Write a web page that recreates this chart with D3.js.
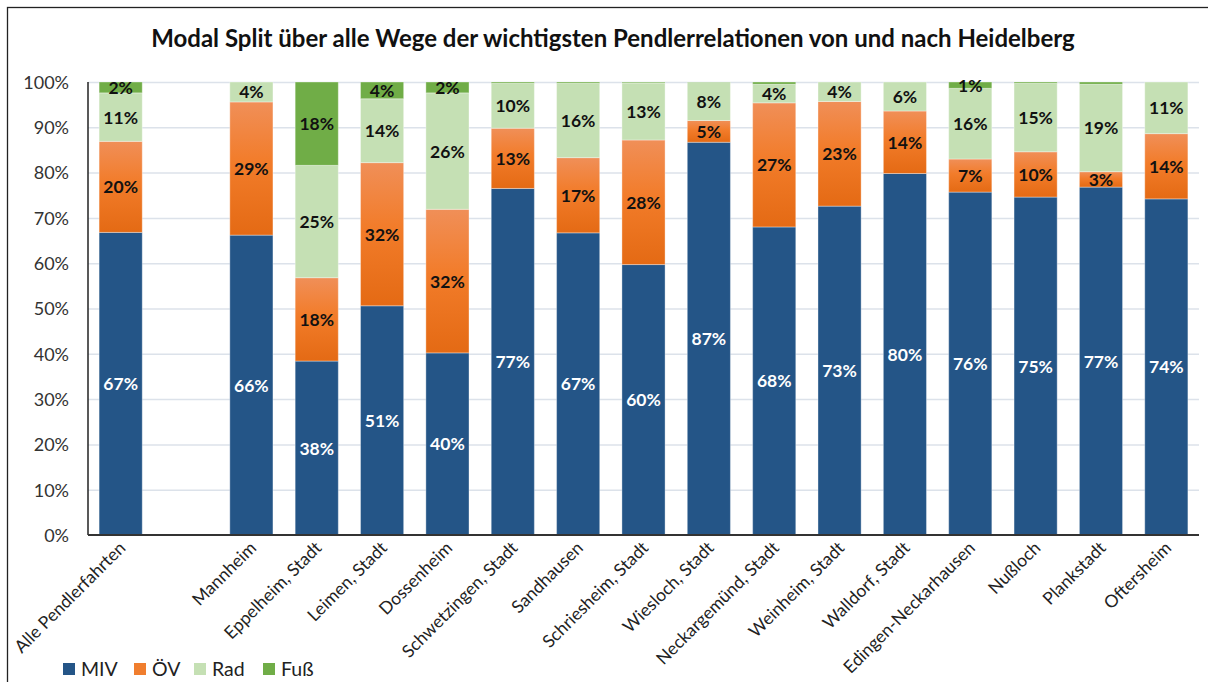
<!DOCTYPE html>
<html><head><meta charset="utf-8">
<script src="https://cdn.jsdelivr.net/npm/d3@7"></script>
<style>body{margin:0;background:#fff;} svg{display:block;font-family:Lato,"Open Sans",sans-serif;}</style>
</head><body><svg id="c" width="1208" height="682"></svg>
<script>
const categories = ["Alle Pendlerfahrten", "", "Mannheim", "Eppelheim, Stadt", "Leimen, Stadt", "Dossenheim",
  "Schwetzingen, Stadt", "Sandhausen", "Schriesheim, Stadt", "Wiesloch, Stadt", "Neckargemünd, Stadt",
  "Weinheim, Stadt", "Walldorf, Stadt", "Edingen-Neckarhausen", "Nußloch", "Plankstadt", "Oftersheim"];
const seriesNames = ["MIV", "ÖV", "Rad", "Fuß"];
const miv = [66.8, null, 66.2, 38.4, 50.6, 40.2, 76.5, 66.7, 59.7, 86.7, 68.0, 72.6, 79.8, 75.7, 74.6, 76.8, 74.2];
const oev = [20.1, null, 29.4, 18.4, 31.6, 31.7, 13.3, 16.6, 27.5, 4.8, 27.4, 23.1, 13.8, 7.3, 10.0, 3.4, 14.4];
const rad = [10.7, null, 4.4, 24.8, 14.1, 25.7, 9.9, 16.4, 12.6, 8.4, 4.1, 4.3, 6.4, 15.6, 15.1, 19.3, 11.4];
const fuss = [2.4, null, 0, 18.4, 3.7, 2.4, 0.3, 0.3, 0.2, 0.1, 0.5, 0, 0, 1.4, 0.3, 0.5, 0];
const yTicks = [0, 10, 20, 30, 40, 50, 60, 70, 80, 90, 100];
const titleText = "Modal Split über alle Wege der wichtigsten Pendlerrelationen von und nach Heidelberg";

const colors = ["#245587", "url(#oevGrad)", "#C5E0B4", "#70AD47"];
const legendColors = ["#245587", "#F07E2E", "#C5E0B4", "#70AD47"];
const labelColors = ["#fff", "#111", "#111", "#111"];

const svg = d3.select("#c");
const defs = svg.append("defs");
const g1 = defs.append("linearGradient").attr("id", "oevGrad")
  .attr("x1", 0).attr("y1", 0).attr("x2", 0).attr("y2", 1);
g1.append("stop").attr("offset", "0%").attr("stop-color", "#F08F58");
g1.append("stop").attr("offset", "45%").attr("stop-color", "#F27C2A");
g1.append("stop").attr("offset", "100%").attr("stop-color", "#E46A14");

// outer frame
svg.append("rect").attr("x", 7.5).attr("y", 7.5).attr("width", 1220).attr("height", 700)
  .attr("fill", "none").attr("stroke", "#222").attr("stroke-width", 1.3);

const L = 88, R = 1199, T = 82, B = 535;
const x = d3.scaleBand().domain(d3.range(categories.length)).range([L, R]).paddingInner(0.34).paddingOuter(0.17);
const y = d3.scaleLinear().domain([0, 100]).range([B, T]);

svg.append("text").attr("x", 613).attr("y", 47).attr("text-anchor", "middle")
  .attr("font-size", 24).attr("font-weight", "bold").attr("fill", "#111").text(titleText);

// gridlines
svg.append("g").selectAll("line").data(yTicks.filter(d => d > 0)).join("line")
  .attr("x1", L).attr("x2", R).attr("y1", d => y(d) + 0.5).attr("y2", d => y(d) + 0.5)
  .attr("stroke", "#DCE2EA").attr("stroke-width", 1.5);

// y axis labels
const yAxis = d3.axisLeft(y).tickValues(yTicks).tickFormat(d => d + "%").tickSize(0).tickPadding(19);
const ya = svg.append("g").attr("transform", `translate(${L},0)`).call(yAxis);
ya.select(".domain").remove();
ya.selectAll("text").attr("font-size", 18).attr("fill", "#333").attr("font-family", "Lato, sans-serif").attr("dy", "0.35em");

const rows = categories.map((c, i) => ({i, MIV: miv[i] || 0, "ÖV": oev[i] || 0, Rad: rad[i] || 0, "Fuß": fuss[i] || 0, empty: miv[i] == null}));
const stack = d3.stack().keys(seriesNames)(rows);

stack.forEach((layer, si) => {
  const gg = svg.append("g");
  gg.selectAll("rect").data(layer.filter(d => !d.data.empty && d[1] - d[0] > 0)).join("rect")
    .attr("x", d => x(d.data.i)).attr("width", x.bandwidth())
    .attr("y", d => y(d[1])).attr("height", d => y(d[0]) - y(d[1]))
    .attr("fill", colors[si]).attr("stroke", "rgba(255,255,255,0.35)").attr("stroke-width", 1);
});
stack.forEach((layer, si) => {
  svg.append("g").selectAll("text").data(layer.filter(d => !d.data.empty && d[1] - d[0] >= 1)).join("text")
    .attr("x", d => x(d.data.i) + x.bandwidth() / 2)
    .attr("y", d => (y(d[0]) + y(d[1])) / 2 + 6.5)
    .attr("text-anchor", "middle").attr("font-size", 17.5).attr("font-weight", "bold")
    .attr("fill", labelColors[si])
    .text(d => Math.round(d[1] - d[0]) + "%");
});

// axes lines
svg.append("line").attr("x1", L).attr("x2", L).attr("y1", T).attr("y2", B).attr("stroke", "#222").attr("stroke-width", 1.5);
svg.append("line").attr("x1", L).attr("x2", R).attr("y1", B).attr("y2", B).attr("stroke", "#333").attr("stroke-width", 2);

// x labels
const xa = svg.append("g");
xa.selectAll("text").data(categories.map((c, i) => ({c, i})).filter(d => d.c)).join("text")
  .attr("transform", d => `translate(${x(d.i) + x.bandwidth() / 2 + 6},${B + 14}) rotate(-45)`)
  .attr("text-anchor", "end").attr("font-size", 17.5).attr("fill", "#222")
  .text(d => d.c);

// legend
const leg = svg.append("g");
const legX = [63, 134, 194, 263];
seriesNames.forEach((s, i) => {
  leg.append("rect").attr("x", legX[i]).attr("y", 663).attr("width", 12).attr("height", 12).attr("fill", legendColors[i]);
  leg.append("text").attr("x", legX[i] + 18).attr("y", 676).attr("font-size", 19.5).attr("fill", "#222").text(s);
});
</script></body></html>
